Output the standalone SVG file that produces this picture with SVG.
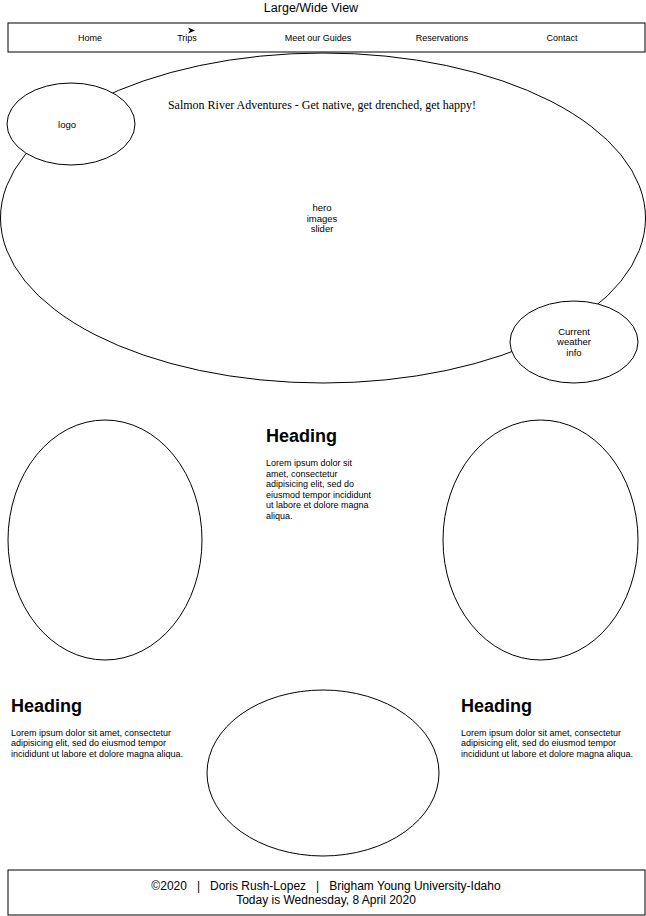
<svg xmlns="http://www.w3.org/2000/svg" width="646" height="916" viewBox="0 0 646 916">
<style>
.s{fill:#fff;stroke:#000;stroke-width:1}
.t{font-family:"Liberation Sans",Arial,sans-serif;fill:#000}
.n{font-size:9.5px;text-anchor:middle}
.m{font-size:9px;text-anchor:middle}
.h{font-size:18px;font-weight:bold}
.p{font-size:9px}
.c{font-size:12px;text-anchor:middle}
</style>
<rect width="646" height="916" fill="#fff"/>
<g id="title"><text class="t" x="311" y="12" font-size="12.5" text-anchor="middle">Large/Wide View</text></g>
<g id="nav">
<rect class="s" x="8" y="23" width="637" height="29"/>
<text class="t m" x="90" y="41">Home</text>
<text class="t m" x="187" y="41">Trips</text>
<text class="t m" x="318" y="41">Meet our Guides</text>
<text class="t m" x="442" y="41">Reservations</text>
<text class="t m" x="562" y="41">Contact</text>
</g>
<g id="cursor"><path d="M188,27.5 L195,30.5 L188,33.5 L190,30.5 Z" fill="#000"/></g>
<g id="hero">
<ellipse class="s" cx="323" cy="218" rx="322.5" ry="165"/>
<text class="t" x="322" y="109" font-size="12" text-anchor="middle" style="font-family:'Liberation Serif',serif">Salmon River Adventures - Get native, get drenched, get happy!</text>
<text class="t n" x="322" y="211">hero</text>
<text class="t n" x="322" y="221.5">images</text>
<text class="t n" x="322" y="232">slider</text>
</g>
<g id="logo">
<ellipse class="s" cx="71" cy="124" rx="64" ry="41"/>
<text class="t n" x="67" y="127.5">logo</text>
</g>
<g id="weather">
<ellipse class="s" cx="574" cy="342" rx="64" ry="41"/>
<text class="t n" x="574" y="334.5">Current</text>
<text class="t n" x="574" y="345">weather</text>
<text class="t n" x="574" y="355.5">info</text>
</g>
<g id="img-left"><ellipse class="s" cx="105" cy="540" rx="97" ry="120"/></g>
<g id="img-right"><ellipse class="s" cx="540.5" cy="540" rx="97.5" ry="120"/></g>
<g id="img-bottom"><ellipse class="s" cx="323" cy="773" rx="116" ry="83"/></g>
<g id="text-center">
<text class="t h" x="266" y="441.5">Heading</text>
<text class="t p" x="266" y="466">Lorem ipsum dolor sit</text>
<text class="t p" x="266" y="476.5">amet, consectetur</text>
<text class="t p" x="266" y="487">adipisicing elit, sed do</text>
<text class="t p" x="266" y="497.5">eiusmod tempor incididunt</text>
<text class="t p" x="266" y="508">ut labore et dolore magna</text>
<text class="t p" x="266" y="518.5">aliqua.</text>
</g>
<g id="text-left">
<text class="t h" x="11" y="711.5">Heading</text>
<text class="t p" x="11" y="735.5">Lorem ipsum dolor sit amet, consectetur</text>
<text class="t p" x="11" y="746">adipisicing elit, sed do eiusmod tempor</text>
<text class="t p" x="11" y="756.5">incididunt ut labore et dolore magna aliqua.</text>
</g>
<g id="text-right">
<text class="t h" x="461" y="711.5">Heading</text>
<text class="t p" x="461" y="735.5">Lorem ipsum dolor sit amet, consectetur</text>
<text class="t p" x="461" y="746">adipisicing elit, sed do eiusmod tempor</text>
<text class="t p" x="461" y="756.5">incididunt ut labore et dolore magna aliqua.</text>
</g>
<g id="footer">
<rect class="s" x="8" y="870" width="637" height="45"/>
<text class="t c" x="326" y="890" xml:space="preserve">©2020   |   Doris Rush-Lopez   |   Brigham Young University-Idaho</text>
<text class="t c" x="326" y="904">Today is Wednesday, 8 April 2020</text>
</g>
<g id="connectors"></g>
</svg>
